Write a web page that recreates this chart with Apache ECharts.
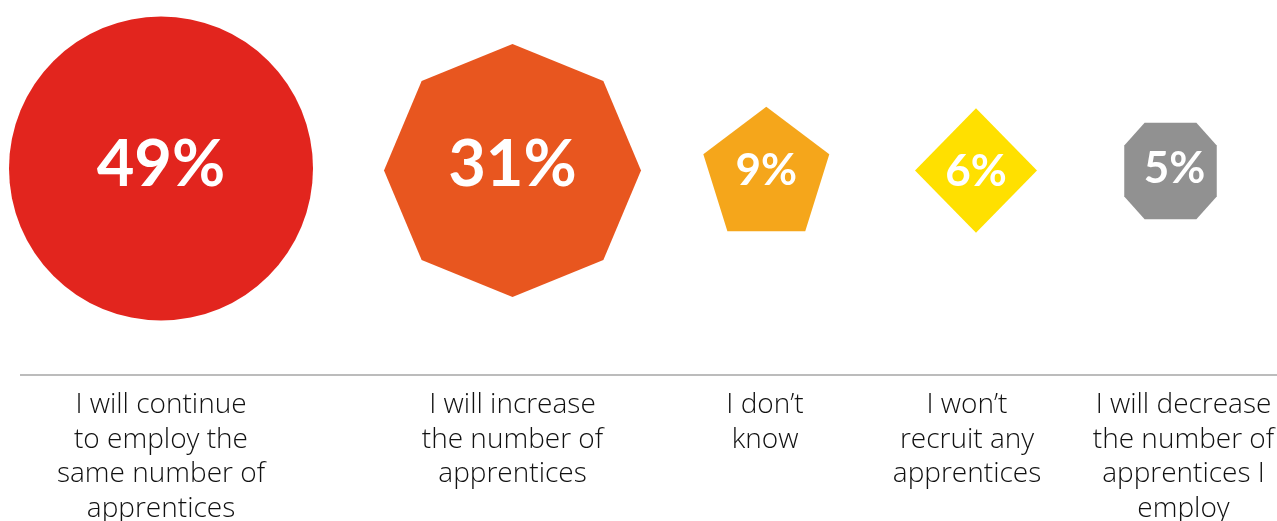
<!DOCTYPE html>
<html>
<head>
<meta charset="utf-8">
<script src="https://cdn.jsdelivr.net/npm/echarts@6/dist/echarts.min.js"></script>
<style>
html,body{margin:0;padding:0;background:#fff;}
#chart{width:1277px;height:521px;}
</style>
</head>
<body>
<div id="chart"></div>
<script>
// ---- data ----
const categories = [
  "I will continue\nto employ the\nsame number of\napprentices",
  "I will increase\nthe number of\napprentices",
  "I don\u2019t\nknow",
  "I won\u2019t\nrecruit any\napprentices",
  "I will decrease\nthe number of\napprentices I\nemploy"
];
const values = [49, 31, 9, 6, 5];
const valueLabels = ["49%", "31%", "9%", "6%", "5%"];

// ---- layout / style (not data) ----
const shapeX = [161, 512.5, 766.3, 976, 1170.5];
const shapeY = [168.5, 170.5, 169, 170.5, 171];
const labelX = [161, 512.5, 765, 967, 1183.5];
const labelTop = 388;
const shapeSizes = [[304, 304], [257, 253], [126, 124.5], [122, 124.5], [92.5, 96.6]];
const colors = ["#E2251E", "#E8561F", "#F5A61B", "#FFE000", "#919191"];
const pctFont = [65, 65, 44, 44, 44];
const pctOffset = [[0, -3], [0, -5], [0, 2], [0, 1], [4, -2]];
const symbols = [
  "circle",
  "path://M0,-1 L0.7071,-0.7071 L1,0 L0.7071,0.7071 L0,1 L-0.7071,0.7071 L-1,0 L-0.7071,-0.7071 Z",
  "path://M0,-1 L0.9511,-0.309 L0.5878,0.809 L-0.5878,0.809 L-0.9511,-0.309 Z",
  "path://M0,-1 L1,0 L0,1 L-1,0 Z",
  "path://M-0.56,-1 L0.56,-1 L1,-0.53 L1,0.53 L0.56,1 L-0.56,1 L-1,0.53 L-1,-0.53 Z"
];

const chart = echarts.init(document.getElementById('chart'), null, {renderer: 'canvas'});

const shapeData = values.map((v, i) => ({
  value: [shapeX[i], shapeY[i], v],
  symbol: symbols[i],
  symbolSize: shapeSizes[i],
  itemStyle: {color: colors[i], opacity: 1},
  label: {
    show: true,
    position: 'inside',
    formatter: valueLabels[i],
    fontSize: pctFont[i],
    offset: pctOffset[i],
    color: '#fff',
    opacity: 1,
    fontFamily: 'Lato',
    fontWeight: 'bold'
  }
}));

const labelData = categories.map((c, i) => ({
  value: [labelX[i], labelTop],
  label: {formatter: c}
}));

chart.setOption({
  animation: false,
  grid: {left: 0, right: 0, top: 0, bottom: 0},
  xAxis: {type: 'value', min: 0, max: 1277, show: false},
  yAxis: {type: 'value', min: 0, max: 521, inverse: true, show: false},
  series: [
    {
      type: 'scatter',
      data: shapeData,
      silent: true,
      itemStyle: {opacity: 1}
    },
    {
      type: 'scatter',
      symbolSize: 0,
      data: labelData,
      silent: true,
      itemStyle: {opacity: 1},
      label: {
        show: true,
        position: 'bottom',
        distance: 0,
        align: 'center',
        verticalAlign: 'top',
        fontFamily: 'Open Sans',
        fontWeight: 300,
        fontSize: 28,
        lineHeight: 34.6,
        color: '#111111',
        opacity: 1
      },
      markLine: {
        silent: true,
        symbol: ['none', 'none'],
        label: {show: false},
        lineStyle: {color: '#A6A6A6', width: 1.5, type: 'solid', opacity: 1},
        data: [[{coord: [20, 374.5]}, {coord: [1277, 374.5]}]]
      }
    }
  ]
});
</script>
</body>
</html>
